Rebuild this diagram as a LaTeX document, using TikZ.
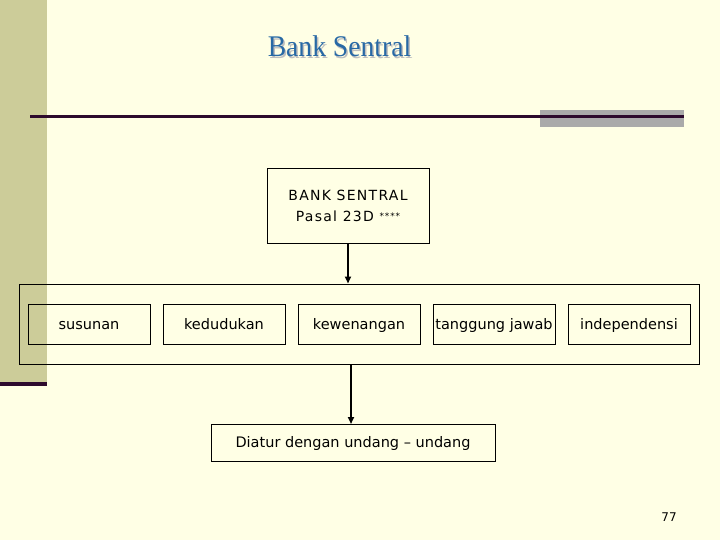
\documentclass[tikz,border=0pt]{standalone}
\usepackage{fontspec}
\setmainfont{Liberation Serif}
\setsansfont{DejaVu Sans}
\newfontfamily\titlefont[FakeStretch=0.92]{Liberation Serif}
\newfontfamily\spacedfont[LetterSpace=9]{DejaVu Sans}
\usetikzlibrary{positioning,fit,arrows.meta}

\definecolor{slidebg}{RGB}{255,255,229}
\definecolor{sidebar}{RGB}{204,204,153}
\definecolor{darkrule}{RGB}{45,10,45}
\definecolor{greyblock}{RGB}{170,170,170}
\definecolor{titleblue}{RGB}{40,105,165}

\tikzset{
  box/.style={draw,line width=1pt,minimum width=122pt,minimum height=40pt,
    inner sep=0pt,outer sep=0pt,text height=12pt,text depth=2pt,
    font=\sffamily\fontsize{14.5}{21}\selectfont},
  link/.style={line width=1.6pt,-{Triangle[length=7pt,width=6pt]}},
  heading/.style={font=\titlefont\fontsize{30}{32}\selectfont,anchor=base},
}

\begin{document}
\begin{tikzpicture}[x=1pt,y=-1pt,node distance=13pt]
  % slide background
  \fill[slidebg] (0,0) rectangle (720,540);
  \useasboundingbox (0,0) rectangle (720,540);
  \fill[sidebar] (0,0) rectangle (47,382);
  \fill[darkrule] (0,382) rectangle (47,386);
  \fill[greyblock] (540,110) rectangle (684,127);
  \draw[darkrule,line width=3pt] (30,117) -- (684,117);

  % title with shadow
  \node[heading,text=gray!50] (titleshadow) at (341,58.5) {Bank Sentral};
  \node[heading,text=titleblue] (title) at (339.5,57) {Bank Sentral};

  \node[box,minimum width=162pt,minimum height=74pt,align=center,text height=,text depth=,
    font=\spacedfont\fontsize{14}{21}\selectfont] (bank) at (348,206)
    {BANK SENTRAL\\Pasal 23D \raisebox{2pt}{\fontsize{9}{9}\selectfont ****}};

  \node[box] (susunan) at (89,324) {susunan};
  \node[box] (kedudukan) [right=of susunan] {kedudukan};
  \node[box] (kewenangan) [right=of kedudukan] {kewenangan};
  \node[box] (tanggung) [right=of kewenangan] {tanggung jawab};
  \node[box] (independensi) [right=of tanggung] {independensi};
  \node[draw,line width=1pt,inner xsep=9pt,inner ysep=20pt,
    fit=(susunan)(independensi)] (frame) {};

  \node[box,minimum width=284pt,minimum height=37pt] (diatur) at (353,442.5)
    {Diatur dengan undang -- undang};

  \draw[link] (bank.south) -- (bank.south |- frame.north);
  \draw[link] ([xshift=-2pt]diatur.north |- frame.south) -- ([xshift=-2pt]diatur.north);

  % page number
  \node[font=\sffamily\fontsize{12}{14}\selectfont] (page) at (669,517) {77};
\end{tikzpicture}
\end{document}
